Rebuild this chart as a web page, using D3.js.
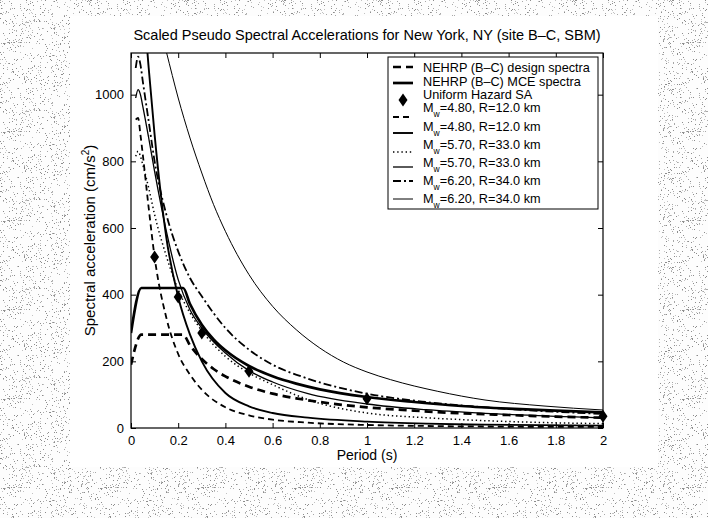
<!DOCTYPE html>
<html>
<head>
<meta charset="utf-8">
<script src="https://cdn.jsdelivr.net/npm/d3@7"></script>
<style>
  html, body { margin: 0; padding: 0; background: #fff; }
  svg { display: block; font-family: "Liberation Sans", Arial, Helvetica, sans-serif; }
</style>
</head>
<body>
<svg id="chart" width="708" height="518"></svg>
<script>
// ---- data -------------------------------------------------------------
const xTicks = [0, 0.2, 0.4, 0.6, 0.8, 1, 1.2, 1.4, 1.6, 1.8, 2];
const yTicks = [0, 200, 400, 600, 800, 1000];

// NEHRP (B-C) spectra
const nehrpPeriods = [0, 0.044, 0.221, 0.25, 0.3, 0.35, 0.4, 0.5, 0.6, 0.7, 0.8, 1.0, 1.2, 1.4, 1.6, 1.8, 2.0];
const nehrpDesign  = [190, 280, 280, 248, 207, 177, 155, 124, 103, 89, 78, 62, 52, 44, 39, 34, 31];
const nehrpMCE     = [285, 420, 420, 372, 310, 266, 233, 186, 155, 133, 116, 93, 78, 66, 58, 52, 47];

// Uniform hazard spectral accelerations
const uhsPeriods = [0.1, 0.2, 0.3, 0.5, 1.0, 2.0];
const uhsValues  = [513, 393, 285, 170, 88, 35];

// Scaled scenario spectra
const scenPeriods = [0.02, 0.03, 0.04, 0.05, 0.075, 0.1, 0.15, 0.2, 0.25, 0.3, 0.4, 0.5, 0.6, 0.75, 1.0, 1.25, 1.5, 2.0];
const m48a = [925, 930, 880, 820, 660, 513, 330, 222, 160, 115, 62, 38, 25, 16, 9, 6, 4.5, 3];
const m48b = [1500, 1480, 1400, 1300, 1080, 880, 570, 393, 280, 200, 105, 65, 45, 31, 19, 13, 10, 7];
const m57a = [815, 830, 815, 790, 720, 640, 515, 415, 345, 292, 215, 165, 130, 85, 45, 31, 22, 13];
const m57b = [990, 1015, 1000, 965, 870, 770, 590, 445, 355, 300, 225, 172, 138, 103, 72, 55, 44, 30];
const m62a = [1080, 1114, 1090, 1040, 920, 800, 640, 530, 450, 395, 300, 235, 190, 148, 103, 78, 62, 42];

const m62bPeriods = [0.1, 0.15, 0.2, 0.25, 0.3, 0.35, 0.4, 0.5, 0.6, 0.7, 0.8, 0.9, 1.0, 1.1, 1.3, 1.5, 1.75, 2.0];
const m62b        = [1270, 1128, 990, 870, 765, 670, 590, 460, 365, 295, 240, 198, 168, 145, 110, 84, 66, 54];

const legendLabels = [
  "NEHRP (B\u2013C) design spectra",
  "NEHRP (B\u2013C) MCE spectra",
  "Uniform Hazard SA",
  "M|=4.80, R=12.0 km",
  "M|=4.80, R=12.0 km",
  "M|=5.70, R=33.0 km",
  "M|=5.70, R=33.0 km",
  "M|=6.20, R=34.0 km",
  "M|=6.20, R=34.0 km"
];

// ---- styles -----------------------------------------------------------
const styles = {
  design: { width: 2.7, dash: "8,5" },
  mce:    { width: 2.7, dash: null },
  m48a:   { width: 1.8, dash: "6,4" },
  m48b:   { width: 1.9, dash: null },
  m57a:   { width: 1.5, dash: "1.4,2.8" },
  m57b:   { width: 1.3, dash: null },
  m62a:   { width: 1.8, dash: "8,3,2,3" },
  m62b:   { width: 1.0, dash: null }
};

// ---- layout -----------------------------------------------------------
const svg = d3.select("#chart");
const W = 708, H = 518;
const plot = { left: 131, right: 603, top: 53, bottom: 428 };

const x = d3.scaleLinear().domain([0, 2]).range([plot.left, plot.right]);
const y = d3.scaleLinear().domain([0, 1125]).range([plot.bottom, plot.top]);

// stippled paper around the figure: grey specks scattered by an integer hash
const defs = svg.append("defs");
const tw = 97, th = 89;
const pat = defs.append("pattern")
  .attr("id", "stipple").attr("width", tw).attr("height", th)
  .attr("patternUnits", "userSpaceOnUse");
pat.append("rect").attr("width", tw).attr("height", th).attr("fill", "#fdfdfd");
function hash(n) {
  let h = Math.imul(n ^ 0x9e3779b9, 0x85ebca6b);
  h ^= h >>> 13;
  h = Math.imul(h, 0xc2b2ae35);
  h ^= h >>> 16;
  return h >>> 0;
}
const specks = ["#8c8c8c", "#a8a8a8", "#c2c2c2"];
for (let i = 0; i < 720; i++) {
  const h = hash(i + 1);
  pat.append("rect")
    .attr("x", h % tw)
    .attr("y", (h >>> 10) % th)
    .attr("width", 1).attr("height", 1)
    .attr("fill", specks[(h >>> 24) % 3]);
}
svg.append("rect").attr("width", W).attr("height", H).attr("fill", "url(#stipple)");
svg.append("rect").attr("x", 70).attr("y", 16).attr("width", 588).attr("height", 451).attr("fill", "#fff");

defs.append("clipPath").attr("id", "plotClip").append("rect")
  .attr("x", plot.left).attr("y", plot.top)
  .attr("width", plot.right - plot.left).attr("height", plot.bottom - plot.top);

// ---- axes -------------------------------------------------------------
const fmt = d3.format("~g");
const axB = svg.append("g").attr("transform", `translate(0,${plot.bottom})`)
  .call(d3.axisBottom(x).tickValues(xTicks).tickFormat(fmt).tickSizeInner(-5).tickSizeOuter(0).tickPadding(8));
const axT = svg.append("g").attr("transform", `translate(0,${plot.top})`)
  .call(d3.axisTop(x).tickValues(xTicks).tickFormat("").tickSizeInner(-5).tickSizeOuter(0));
const axL = svg.append("g").attr("transform", `translate(${plot.left},0)`)
  .call(d3.axisLeft(y).tickValues(yTicks).tickFormat(fmt).tickSizeInner(-5).tickSizeOuter(0).tickPadding(7));
const axR = svg.append("g").attr("transform", `translate(${plot.right},0)`)
  .call(d3.axisRight(y).tickValues(yTicks).tickFormat("").tickSizeInner(-5).tickSizeOuter(0));
[axB, axT, axL, axR].forEach(g => {
  g.select(".domain").remove();
  g.selectAll(".tick line").attr("stroke", "#000").attr("stroke-width", 1);
  g.selectAll(".tick text").attr("fill", "#000").attr("font-size", 13)
    .attr("font-family", "Liberation Sans, Arial, sans-serif");
});

// ---- curves -----------------------------------------------------------
const line = d3.line().x(d => x(d[0])).y(d => y(d[1])).curve(d3.curveMonotoneX);
const curves = svg.append("g").attr("clip-path", "url(#plotClip)");

function drawCurve(periods, values, key) {
  const st = styles[key];
  curves.append("path")
    .datum(periods.map((p, i) => [p, values[i]]))
    .attr("d", line)
    .attr("fill", "none")
    .attr("stroke", "#000")
    .attr("stroke-width", st.width)
    .attr("stroke-dasharray", st.dash)
    .attr("stroke-linejoin", "round");
}

drawCurve(m62bPeriods, m62b, "m62b");
drawCurve(scenPeriods, m57b, "m57b");
drawCurve(scenPeriods, m57a, "m57a");
drawCurve(scenPeriods, m62a, "m62a");
drawCurve(scenPeriods, m48b, "m48b");
drawCurve(scenPeriods, m48a, "m48a");
drawCurve(nehrpPeriods, nehrpDesign, "design");
drawCurve(nehrpPeriods, nehrpMCE, "mce");

// uniform hazard diamonds
const diamond = (cx, cy, w, h) => `M${cx},${cy - h}L${cx + w},${cy}L${cx},${cy + h}L${cx - w},${cy}Z`;
svg.append("g").selectAll("path").data(uhsPeriods.map((p, i) => [p, uhsValues[i]]))
  .join("path")
  .attr("d", d => diamond(x(d[0]), y(d[1]), 4.5, 6.5))
  .attr("fill", "#000");

// plot frame
svg.append("rect")
  .attr("x", plot.left).attr("y", plot.top)
  .attr("width", plot.right - plot.left).attr("height", plot.bottom - plot.top)
  .attr("fill", "none").attr("stroke", "#000").attr("stroke-width", 1.2);

// ---- titles -----------------------------------------------------------
svg.append("text")
  .attr("x", (plot.left + plot.right) / 2).attr("y", 40)
  .attr("text-anchor", "middle").attr("font-size", 14.5)
  .text("Scaled Pseudo Spectral Accelerations for New York, NY (site B\u2013C, SBM)");

svg.append("text")
  .attr("x", (plot.left + plot.right) / 2).attr("y", 460)
  .attr("text-anchor", "middle").attr("font-size", 14)
  .text("Period (s)");

const yl = svg.append("text")
  .attr("transform", `translate(95,${(plot.top + plot.bottom) / 2}) rotate(-90)`)
  .attr("text-anchor", "middle").attr("font-size", 15);
yl.append("tspan").text("Spectral acceleration (cm/s");
yl.append("tspan").attr("font-size", 10).attr("dy", -6).text("2");
yl.append("tspan").attr("dy", 6).text(")");

// ---- legend -----------------------------------------------------------
const leg = svg.append("g");
leg.append("rect").attr("x", 388).attr("y", 57).attr("width", 210).attr("height", 152)
  .attr("fill", "#fff").attr("stroke", "#000").attr("stroke-width", 1);

const legKeys  = ["design", "mce", "uhs", "m48a", "m48b", "m57a", "m57b", "m62a", "m62b"];
const textRowY = [67, 81, 94, 107, 126, 144, 162, 180, 198];
const symOffset = [0, 2, 6, 10, 7, 8, 5, 1, 1];

legKeys.forEach((k, i) => {
  const ty = textRowY[i];
  const sy = ty + symOffset[i];
  if (k === "uhs") {
    leg.append("path").attr("d", diamond(403, sy, 4.5, 6.5)).attr("fill", "#000");
  } else {
    const st = styles[k];
    leg.append("line").attr("x1", 393).attr("x2", 413).attr("y1", sy).attr("y2", sy)
      .attr("stroke", "#000").attr("stroke-width", st.width)
      .attr("stroke-dasharray", st.dash);
  }
  const t = leg.append("text").attr("x", 423).attr("y", ty + 4.5).attr("font-size", 12.7);
  const lab = legendLabels[i];
  if (lab.includes("|")) {
    const [a, b] = lab.split("|");
    t.append("tspan").text(a);
    t.append("tspan").attr("font-size", 8.5).attr("dy", 5).text("w");
    t.append("tspan").attr("dy", -5).text(b);
  } else {
    t.text(lab);
  }
});
</script>
</body>
</html>
